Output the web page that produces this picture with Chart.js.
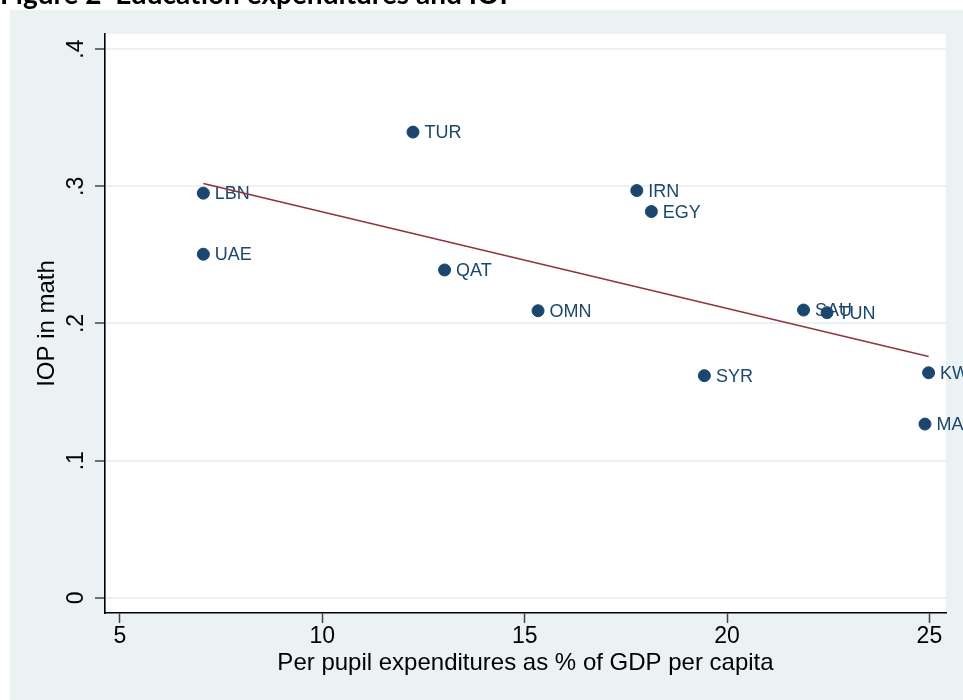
<!DOCTYPE html>
<html>
<head>
<meta charset="utf-8">
<script src="https://cdn.jsdelivr.net/npm/chart.js@4"></script>
<style>
  body { margin: 0; background: #fff; }
  canvas { display: block; }
</style>
</head>
<body>
<canvas id="myChart" width="963" height="700"></canvas>
<script>
// values
const countries = ['TUR', 'LBN', 'UAE', 'QAT', 'OMN', 'IRN', 'EGY', 'SAU', 'TUN', 'SYR', 'KWT', 'MAR'];
const spending = [12.24, 7.06, 7.06, 13.02, 15.33, 17.77, 18.13, 21.89, 22.47, 19.44, 24.98, 24.89];
const iop = [0.3395, 0.295, 0.2505, 0.239, 0.2093, 0.2969, 0.2816, 0.2098, 0.2079, 0.162, 0.1641, 0.1267];

// fitted line end points
const fitX = [7.06, 24.98];
const fitY = [0.302, 0.176];

const xTicks = [5, 10, 15, 20, 25];
const yTicks = [0, 0.1, 0.2, 0.3, 0.4];
const yTickLabels = ['0', '.1', '.2', '.3', '.4'];

const navy = '#1A476F';
const maroon = '#90353B';
const bgColor = '#EAF2F3';
const fontFam = '"Liberation Sans", Arial, Helvetica, sans-serif';

// background, graph region and plot region
const backdrop = {
  id: 'backdrop',
  beforeDraw(chart) {
    const ctx = chart.ctx;
    const a = chart.chartArea;
    ctx.save();
    ctx.fillStyle = '#fff';
    ctx.fillRect(0, 0, chart.width, chart.height);
    ctx.fillStyle = bgColor;
    ctx.fillRect(10, 10, chart.width - 10, chart.height - 10);
    ctx.fillStyle = '#fff';
    ctx.fillRect(a.left, a.top, a.right - a.left, a.bottom - a.top);
    ctx.restore();
  },
  afterDraw(chart) {
    const ctx = chart.ctx;
    ctx.save();
    // figure caption, mostly cut off at the top
    ctx.fillStyle = '#000';
    ctx.font = 'bold 28px Lato, "Open Sans", sans-serif';
    ctx.textBaseline = 'alphabetic';
    ctx.fillText('Figure 2  Education expenditures and IOP', 0, 4);

    // rotated y tick labels
    const ys = chart.scales.y;
    ctx.font = '23px ' + fontFam;
    ctx.textAlign = 'center';
    ctx.textBaseline = 'middle';
    yTicks.forEach((v, i) => {
      ctx.save();
      ctx.translate(chart.chartArea.left - 28, ys.getPixelForValue(v));
      ctx.rotate(-Math.PI / 2);
      ctx.fillText(yTickLabels[i], 0, 0);
      ctx.restore();
    });
    ctx.restore();
  }
};

// country labels to the right of each marker
const pointLabels = {
  id: 'pointLabels',
  afterDatasetDraw(chart, args) {
    if (args.index !== 1) return;
    const ctx = chart.ctx;
    ctx.save();
    ctx.fillStyle = navy;
    ctx.font = '18px ' + fontFam;
    ctx.textBaseline = 'middle';
    ctx.textAlign = 'left';
    args.meta.data.forEach((pt, i) => {
      ctx.fillText(countries[i], pt.x + 11.5, pt.y + 1);
    });
    ctx.restore();
  }
};

const config = {
  type: 'scatter',
  data: {
    datasets: [{
      type: 'line',
      label: 'Fitted values',
      data: fitX.map((x, i) => ({ x: x, y: fitY[i] })),
      borderColor: maroon,
      borderWidth: 1.6,
      pointRadius: 0,
      fill: false,
      showLine: true
    }, {
      label: 'IOP in math',
      data: spending.map((x, i) => ({ x: x, y: iop[i] })),
      backgroundColor: navy,
      borderColor: navy,
      pointRadius: 6,
      pointHoverRadius: 6
    }]
  },
  options: {
    responsive: false,
    animation: false,
    events: [],
    layout: { padding: { left: 0, top: 34, right: 17, bottom: 0 } },
    plugins: {
      legend: { display: false },
      tooltip: { enabled: false }
    },
    scales: {
      x: {
        type: 'linear',
        min: 4.63,
        max: 25.41,
        afterBuildTicks: (s) => { s.ticks = xTicks.map(v => ({ value: v })); },
        afterFit: (s) => { s.height = 87; },
        grid: {
          drawOnChartArea: false,
          drawTicks: true,
          tickLength: 10,
          tickColor: '#444',
          tickWidth: 1.5
        },
        border: { display: true, color: '#000', width: 1.6 },
        ticks: {
          color: '#000',
          font: { family: fontFam, size: 23 },
          padding: 0,
          maxRotation: 0,
          callback: (v) => String(v)
        },
        title: {
          display: true,
          text: 'Per pupil expenditures as % of GDP per capita',
          color: '#000',
          font: { family: fontFam, size: 24 },
          padding: { top: 0, bottom: 22 }
        }
      },
      y: {
        type: 'linear',
        min: -0.011,
        max: 0.411,
        afterBuildTicks: (s) => { s.ticks = yTicks.map(v => ({ value: v })); },
        afterFit: (s) => { s.width = 105; },
        grid: {
          color: bgColor,
          lineWidth: 2,
          drawTicks: true,
          tickLength: 10,
          tickColor: '#444',
          tickWidth: 1.5
        },
        border: { display: true, color: '#000', width: 1.6 },
        ticks: { display: false },
        title: {
          display: true,
          text: 'IOP in math',
          color: '#000',
          font: { family: fontFam, size: 24 },
          padding: { top: 33, bottom: 0 }
        }
      }
    }
  },
  plugins: [backdrop, pointLabels]
};

const myChart = new Chart(document.getElementById('myChart'), config);
</script>
</body>
</html>
